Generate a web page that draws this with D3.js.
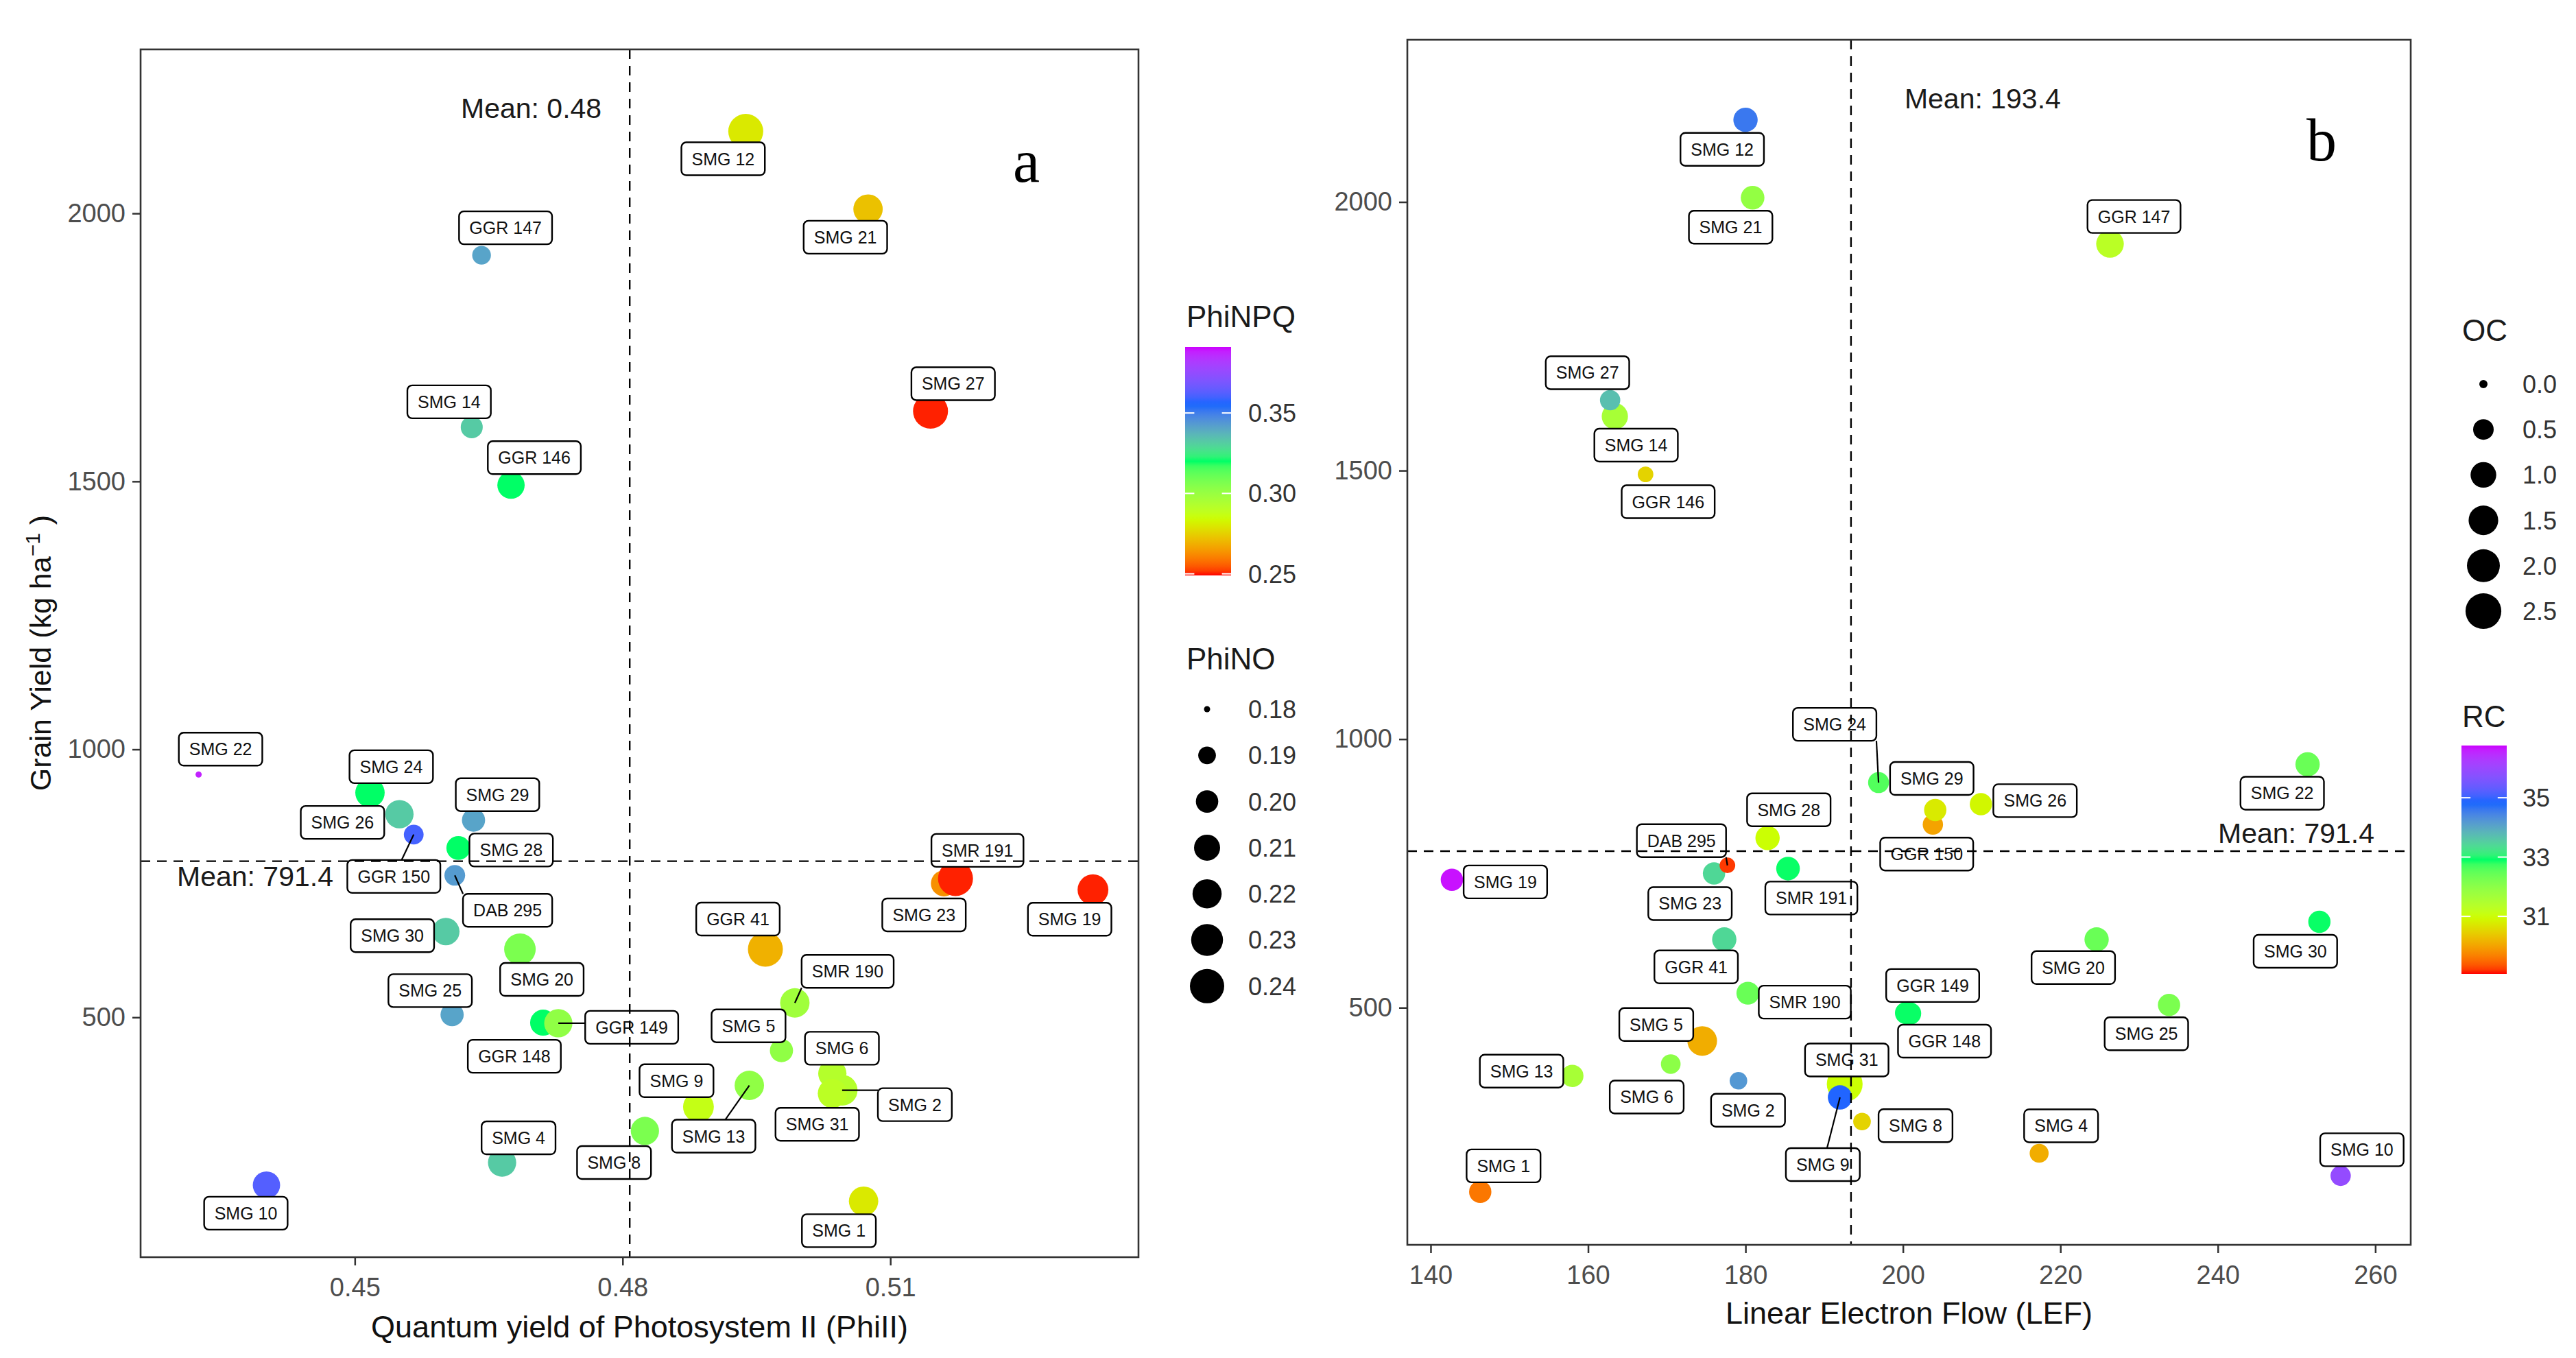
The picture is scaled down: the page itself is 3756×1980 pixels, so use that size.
<!doctype html>
<html>
<head>
<meta charset="utf-8">
<script src="https://cdn.jsdelivr.net/npm/d3@7"></script>
<style>
  body { margin: 0; background: #fff; }
  text { font-family: "Liberation Sans", Arial, sans-serif; }
  text.panel-letter { font-family: "Liberation Serif", "Times New Roman", serif; }
</style>
</head>
<body>
<svg id="chart" width="3756" height="1980"></svg>
<script>
  // genotypes, in plotting order
  var genotypes = ['SMG 1', 'SMG 2', 'SMG 4', 'SMG 5', 'SMG 6', 'SMG 8', 'SMG 10', 'SMG 12', 'SMG 13', 'SMG 14',
    'SMG 19', 'SMG 20', 'SMG 21', 'SMG 22', 'SMG 23', 'SMG 24', 'SMG 25', 'SMG 26', 'SMG 27', 'SMG 28',
    'SMG 30', 'SMG 31', 'SMG 9', 'GGR 41', 'GGR 146', 'GGR 147', 'GGR 148', 'GGR 149', 'GGR 150', 'SMG 29',
    'DAB 295', 'SMR 190', 'SMR 191'];

  var grainYield = [157, 364, 229, 438, 395, 288, 187, 2153, 373, 1601,
    738, 627, 2008, 953, 750, 919, 505, 879, 1631, 816,
    660, 358, 333, 627, 1493, 1922, 490, 489, 841, 868,
    765, 527, 759];

  var phiII = [0.507, 0.5046, 0.4665, 0.4978, 0.5035, 0.4825, 0.4401, 0.4938, 0.4942, 0.4631,
    0.5327, 0.4685, 0.5075, 0.4325, 0.516, 0.4517, 0.4609, 0.455, 0.5145, 0.4616,
    0.4602, 0.5035, 0.4885, 0.496, 0.4675, 0.4642, 0.4711, 0.4728, 0.4566, 0.4633,
    0.4612, 0.4993, 0.5173];

  var phiNPQ = [0.28, 0.292, 0.332, 0.302, 0.292, 0.307, 0.362, 0.28, 0.302, 0.332,
    0.25, 0.307, 0.272, 0.388, 0.263, 0.32, 0.341, 0.332, 0.25, 0.32,
    0.332, 0.29, 0.287, 0.269, 0.32, 0.341, 0.32, 0.302, 0.36, 0.341,
    0.343, 0.298, 0.25];

  var phiNO = [0.221, 0.226, 0.217, 0.202, 0.217, 0.217, 0.214, 0.243, 0.221, 0.199,
    0.226, 0.229, 0.221, 0.18, 0.21, 0.221, 0.202, 0.217, 0.243, 0.204,
    0.214, 0.22, 0.226, 0.243, 0.214, 0.192, 0.21, 0.217, 0.194, 0.202,
    0.196, 0.221, 0.243];

  var lef = [146.3, 179.1, 217.3, 174.5, 170.5, 194.8, 255.6, 180.0, 158.0, 163.4,
    142.7, 224.6, 180.9, 251.4, 176.0, 196.9, 233.8, 209.9, 162.8, 182.8,
    252.9, 192.6, 192.0, 177.3, 167.3, 226.3, 200.4, 200.9, 203.8, 204.1,
    177.7, 180.3, 185.4];

  var rc = [29.6, 34.2, 30.1, 30.1, 32.0, 30.5, 35.9, 34.6, 31.6, 31.6,
    36.7, 32.4, 31.9, 32.4, 33.4, 32.6, 32.2, 30.9, 33.7, 31.0,
    32.9, 31.0, 34.9, 33.4, 30.5, 31.3, 32.9, 32.9, 30.0, 30.75,
    29.2, 32.4, 32.9];

  var oc = [0.65, 0.29, 0.38, 1.51, 0.43, 0.29, 0.48, 0.85, 0.65, 1.07,
    0.65, 0.85, 0.78, 0.85, 0.65, 0.53, 0.65, 0.65, 0.48, 0.85,
    0.65, 2.5, 0.85, 0.85, 0.18, 1.24, 0.65, 0.65, 0.48, 0.65,
    0.18, 0.71, 0.78];

  var meanPhiII = 0.4808, meanYield = 791.4, meanLEF = 193.4;

  var yieldTicks = [500, 1000, 1500, 2000];
  var phiIITicks = [0.45, 0.48, 0.51];
  var lefTicks = [140, 160, 180, 200, 220, 240, 260];
  var npqBreaks = [0.25, 0.30, 0.35];
  var noBreaks = [0.18, 0.19, 0.20, 0.21, 0.22, 0.23, 0.24];
  var rcBreaks = [31, 33, 35];
  var ocBreaks = [0.0, 0.5, 1.0, 1.5, 2.0, 2.5];

  // where ggrepel put each label, px offset from its point
  var labelNudgeA = [[-36, 43], [106, 21], [24, -36], [-48, -36], [14, -37], [-45, 46], [-30, 41], [-33, 40], [-52, 74], [-33, -37],
    [-34, 43], [32, 44], [-33, 41], [32, -37], [-29, 46], [31, -38], [-32, -35], [-83, 12], [33, -40], [77, 3],
    [-78, 6], [-22, 45], [-32, -38], [-40, -44], [34, -40], [35, -40], [-42, 49], [107, 6], [-29, 61], [35, -37],
    [77, 51], [77, -46], [32, -41]];
  var labelNudgeB = [[34, -38], [14, 43], [32, -40], [-67, -24], [-35, 48], [78, 6], [31, -38], [-34, 43], [-74, -7], [31, 42],
    [78, 3], [-34, 41], [-32, 43], [-37, 42], [-35, 44], [-64, -85], [-33, 42], [79, -5], [-33, -40], [31, -41],
    [-35, 43], [3, -35], [-25, 98], [-41, 40], [33, 40], [35, -40], [56, 41], [33, -41], [-9, 43], [-5, -46],
    [-67, -36], [83, 13], [34, 43]];
  // leader lines: 'near' ends at the closest point of the box, 'centre' aims at the box centre
  var segmentsA = { 'SMG 2': 'near', 'GGR 149': 'near', 'DAB 295': 'near', 'SMR 190': 'near', 'SMG 13': 'centre', 'GGR 150': 'centre' };
  var segmentsB = { 'SMG 24': 'near', 'DAB 295': 'near', 'SMG 9': 'centre' };

  var rainbowStops = ['#FF0000', '#CCFF00', '#00FF66', '#0066FF', '#CC00FF'];

  var svg = d3.select('#chart');

  function rainbowScale(lo, hi) {
    return d3.scaleLinear()
      .domain(rainbowStops.map(function (c, i) { return lo + i * (hi - lo) / (rainbowStops.length - 1); }))
      .range(rainbowStops)
      .interpolate(d3.interpolateLab)
      .clamp(true);
  }

  // ggplot scale_size: diameter grows with sqrt of the rescaled value
  function sizeScale(domain, range) {
    var t = d3.scaleLinear().domain(domain).range([0, 1]).clamp(true);
    var d = d3.scaleLinear().domain([0, 1]).range(range);
    return function (v) { return d(Math.sqrt(t(v))); };
  }

  function styleAxis(sel) {
    sel.select('.domain').remove();
    sel.selectAll('.tick line').attr('stroke', '#333').attr('stroke-width', 2.5);
    sel.selectAll('.tick text').attr('font-size', 38).attr('fill', '#4d4d4d').attr('font-family', null);
  }

  function segmentEnd(d, w, h, mode) {
    var x0 = d.lx - w / 2, x1 = d.lx + w / 2, y0 = d.ly - h / 2, y1 = d.ly + h / 2;
    if (mode === 'near') {
      return [Math.max(x0, Math.min(d.px, x1)), Math.max(y0, Math.min(d.py, y1))];
    }
    var dx = d.lx - d.px, dy = d.ly - d.py;
    var tx = dx === 0 ? Infinity : ((dx > 0 ? x0 : x1) - d.px) / dx;
    var ty = dy === 0 ? Infinity : ((dy > 0 ? y0 : y1) - d.py) / dy;
    var t = Math.max(Math.min(tx, ty), 0);
    // whichever edge is crossed last is the real entry point
    t = Math.max(isFinite(tx) ? tx : 0, isFinite(ty) ? ty : 0);
    return [d.px + dx * t, d.py + dy * t];
  }

  function drawPanel(p) {
    var x = d3.scaleLinear().domain(p.xDomain).range([p.left, p.right]);
    var y = d3.scaleLinear().domain(p.yDomain).range([p.bottom, p.top]);
    var g = svg.append('g');

    g.append('g').attr('transform', 'translate(0,' + p.bottom + ')')
      .call(d3.axisBottom(x).tickValues(p.xTicks).tickFormat(p.xFormat).tickSize(12).tickPadding(18))
      .call(styleAxis);
    g.append('g').attr('transform', 'translate(' + p.left + ',0)')
      .call(d3.axisLeft(y).tickValues(yieldTicks).tickFormat(d3.format('d')).tickSize(12).tickPadding(10))
      .call(styleAxis);

    g.append('text')
      .attr('x', (p.left + p.right) / 2).attr('y', p.bottom + p.xTitleGap)
      .attr('text-anchor', 'middle').attr('font-size', 45).attr('fill', '#111')
      .text(p.xTitle);

    var pts = genotypes.map(function (name, i) {
      var px = x(p.xValues[i]), py = y(grainYield[i]);
      return {
        name: name, px: px, py: py,
        fill: p.color(p.colorValues[i]),
        d: p.size(p.sizeValues[i]),
        lx: px + p.nudges[i][0], ly: py + p.nudges[i][1],
        seg: p.segments[name]
      };
    });

    g.append('g').selectAll('circle').data(pts).join('circle')
      .attr('cx', function (d) { return d.px; })
      .attr('cy', function (d) { return d.py; })
      .attr('r', function (d) { return d.d / 2; })
      .attr('fill', function (d) { return d.fill; });

    var segG = g.append('g');
    var labG = g.append('g');
    pts.forEach(function (d) {
      var lg = labG.append('g').attr('transform', 'translate(' + d.lx + ',' + d.ly + ')');
      var t = lg.append('text')
        .attr('text-anchor', 'middle').attr('dy', '0.36em')
        .attr('font-size', 25).attr('fill', '#111')
        .text(d.name);
      var w = t.node().getComputedTextLength() + 30, h = 48;
      lg.insert('rect', 'text')
        .attr('x', -w / 2).attr('y', -h / 2).attr('width', w).attr('height', h)
        .attr('rx', 7).attr('fill', '#fff').attr('stroke', '#000').attr('stroke-width', 2.4);
      if (d.seg) {
        var e = segmentEnd(d, w, h, d.seg);
        segG.append('line')
          .attr('x1', d.px).attr('y1', d.py).attr('x2', e[0]).attr('y2', e[1])
          .attr('stroke', '#000').attr('stroke-width', 2.2);
      }
    });

    // mean lines sit on top of everything, as in the figure
    var mx = x(p.meanX), my = y(meanYield);
    g.append('line').attr('x1', mx).attr('x2', mx).attr('y1', p.top).attr('y2', p.bottom)
      .attr('stroke', '#000').attr('stroke-width', 2.4).attr('stroke-dasharray', '14 10');
    g.append('line').attr('x1', p.left).attr('x2', p.right).attr('y1', my).attr('y2', my)
      .attr('stroke', '#000').attr('stroke-width', 2.4).attr('stroke-dasharray', '14 10');

    g.append('text')
      .attr('x', p.meanXText.anchor === 'end' ? mx - p.meanXText.gap : mx + p.meanXText.gap)
      .attr('y', p.top + 100)
      .attr('text-anchor', p.meanXText.anchor)
      .attr('font-size', 41).attr('fill', '#1a1a1a')
      .text(p.meanXLabel);
    g.append('text')
      .attr('x', p.meanYText.anchor === 'end' ? p.right - 53 : p.left + 53)
      .attr('y', my + p.meanYText.dy)
      .attr('text-anchor', p.meanYText.anchor)
      .attr('font-size', 41).attr('fill', '#1a1a1a')
      .text('Mean: ' + meanYield);

    g.append('rect')
      .attr('x', p.left).attr('y', p.top)
      .attr('width', p.right - p.left).attr('height', p.bottom - p.top)
      .attr('fill', 'none').attr('stroke', '#333').attr('stroke-width', 2.6);

    g.append('text')
      .attr('class', 'panel-letter')
      .attr('x', p.letter.x).attr('y', p.letter.y)
      .attr('font-size', 88).attr('fill', '#000')
      .text(p.letter.text);
  }

  function drawColorbar(lg) {
    var gid = 'grad-' + lg.title;
    var grad = svg.append('defs').append('linearGradient')
      .attr('id', gid).attr('x1', 0).attr('y1', 1).attr('x2', 0).attr('y2', 0);
    d3.range(0, 1.0001, 0.02).forEach(function (t) {
      grad.append('stop').attr('offset', t)
        .attr('stop-color', lg.scale(lg.domain[0] + t * (lg.domain[1] - lg.domain[0])));
    });
    var by = d3.scaleLinear().domain(lg.domain).range([lg.y + lg.h, lg.y]);
    svg.append('text').attr('x', lg.titleX).attr('y', lg.titleY)
      .attr('font-size', 44).attr('fill', '#1a1a1a').text(lg.title);
    svg.append('rect').attr('x', lg.x).attr('y', lg.y).attr('width', lg.w).attr('height', lg.h)
      .attr('fill', 'url(#' + gid + ')');
    lg.breaks.forEach(function (b) {
      var yy = by(b);
      [[lg.x, lg.x + lg.w / 5], [lg.x + lg.w * 4 / 5, lg.x + lg.w]].forEach(function (seg) {
        svg.append('line').attr('x1', seg[0]).attr('x2', seg[1]).attr('y1', yy).attr('y2', yy)
          .attr('stroke', '#fff').attr('stroke-width', 2);
      });
      svg.append('text').attr('x', lg.labelX).attr('y', yy).attr('dy', '0.36em')
        .attr('font-size', 36).attr('fill', '#333').text(lg.format(b));
    });
  }

  function drawSizeLegend(lg) {
    svg.append('text').attr('x', lg.titleX).attr('y', lg.titleY)
      .attr('font-size', 44).attr('fill', '#1a1a1a').text(lg.title);
    lg.breaks.forEach(function (b, i) {
      var yy = lg.y0 + i * lg.step;
      svg.append('circle').attr('cx', lg.keyX).attr('cy', yy).attr('r', lg.size(b) / 2).attr('fill', '#000');
      svg.append('text').attr('x', lg.labelX).attr('y', yy).attr('dy', '0.36em')
        .attr('font-size', 36).attr('fill', '#333').text(lg.format(b));
    });
  }

  var npqDomain = [0.249, 0.391], noDomain = [0.18, 0.243];
  var rcDomain = [29.06, 36.76], ocDomain = [0, 2.6];
  var npqColor = rainbowScale(npqDomain[0], npqDomain[1]);
  var rcColor = rainbowScale(rcDomain[0], rcDomain[1]);
  var noSize = sizeScale(noDomain, [9, 51]);
  var ocSize = sizeScale(ocDomain, [12, 53]);

  drawPanel({
    left: 205, right: 1660, top: 72, bottom: 1833,
    xDomain: [0.426, 0.5378], yDomain: [52.5, 2306],
    xTicks: phiIITicks, xFormat: d3.format('.2f'),
    xValues: phiII, colorValues: phiNPQ, sizeValues: phiNO,
    color: npqColor, size: noSize,
    nudges: labelNudgeA, segments: segmentsA,
    xTitle: 'Quantum yield of Photosystem II (PhiII)', xTitleGap: 117,
    meanX: meanPhiII, meanXLabel: 'Mean: 0.48',
    meanXText: { anchor: 'end', gap: 41 },
    meanYText: { anchor: 'start', dy: 36 },
    letter: { text: 'a', x: 1477, y: 265 }
  });

  drawPanel({
    left: 2052, right: 3515, top: 58, bottom: 1815,
    xDomain: [137.04, 264.5], yDomain: [58.5, 2302],
    xTicks: lefTicks, xFormat: d3.format('d'),
    xValues: lef, colorValues: rc, sizeValues: oc,
    color: rcColor, size: ocSize,
    nudges: labelNudgeB, segments: segmentsB,
    xTitle: 'Linear Electron Flow (LEF)', xTitleGap: 115,
    meanX: meanLEF, meanXLabel: 'Mean: ' + meanLEF,
    meanXText: { anchor: 'start', gap: 78 },
    meanYText: { anchor: 'end', dy: -12 },
    letter: { text: 'b', x: 3363, y: 234 }
  });

  // y title only on panel a
  var yTitle = svg.append('text')
    .attr('transform', 'translate(74,952) rotate(-90)')
    .attr('text-anchor', 'middle').attr('font-size', 43).attr('fill', '#111');
  yTitle.append('tspan').text('Grain Yield (kg ha');
  yTitle.append('tspan').attr('dy', -16).attr('font-size', 30).text('\u22121');
  yTitle.append('tspan').attr('dy', 16).text(' )');

  drawColorbar({
    title: 'PhiNPQ', titleX: 1730, titleY: 477,
    x: 1728, y: 506, w: 67, h: 333, labelX: 1820,
    domain: npqDomain, scale: npqColor, breaks: npqBreaks, format: d3.format('.2f')
  });
  drawSizeLegend({
    title: 'PhiNO', titleX: 1730, titleY: 976,
    keyX: 1760, labelX: 1820, y0: 1034, step: 67.3,
    breaks: noBreaks, size: noSize, format: d3.format('.2f')
  });
  drawSizeLegend({
    title: 'OC', titleX: 3590, titleY: 497,
    keyX: 3621, labelX: 3678, y0: 560, step: 66.2,
    breaks: ocBreaks, size: ocSize, format: d3.format('.1f')
  });
  drawColorbar({
    title: 'RC', titleX: 3590, titleY: 1060,
    x: 3589, y: 1087, w: 66, h: 333, labelX: 3678,
    domain: rcDomain, scale: rcColor, breaks: rcBreaks, format: d3.format('d')
  });
</script>
</body>
</html>
